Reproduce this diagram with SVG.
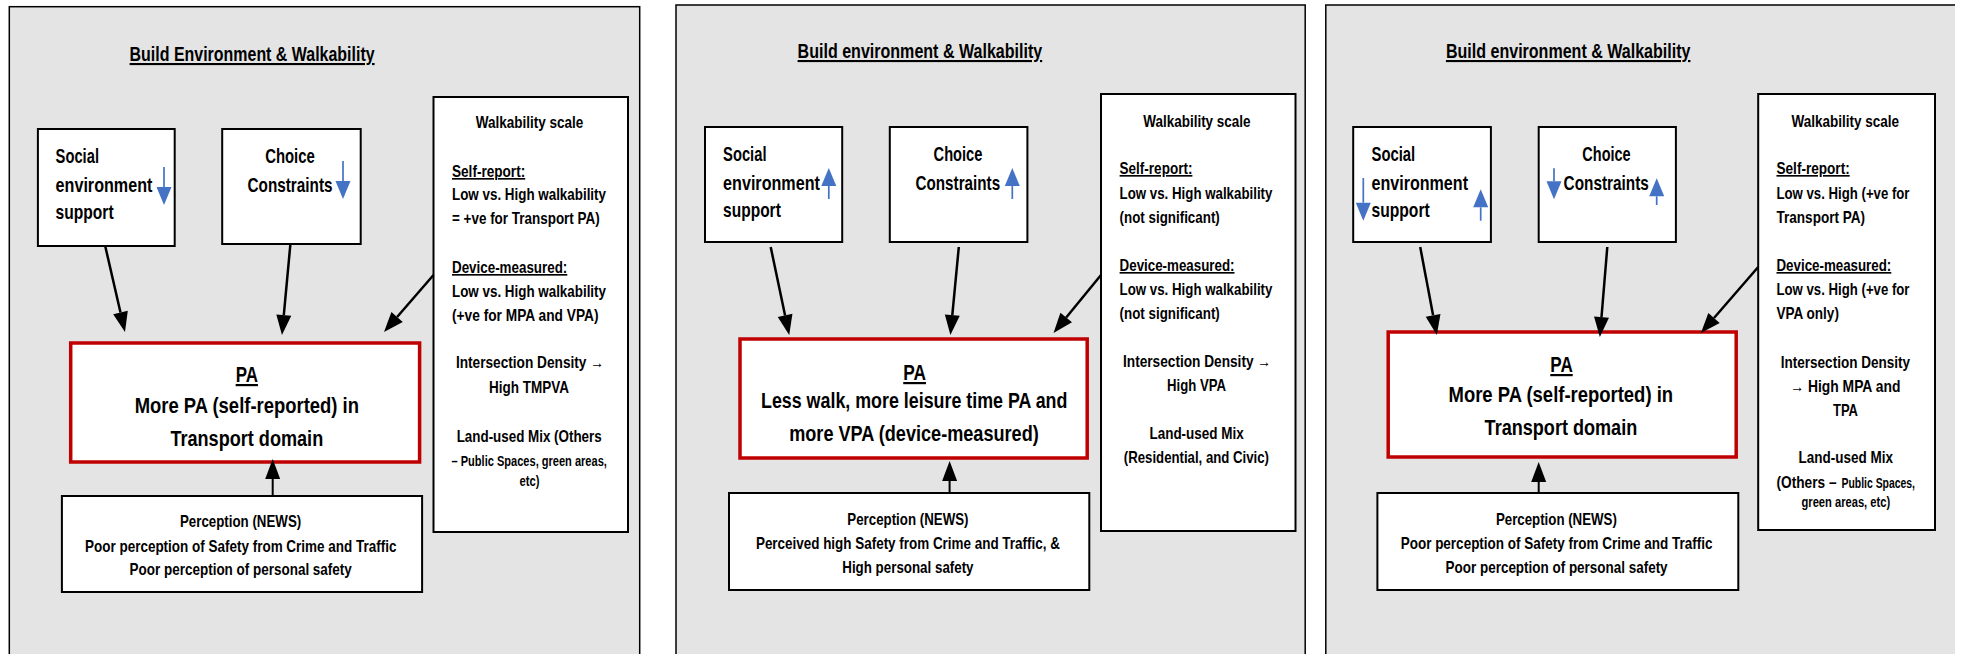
<svg xmlns="http://www.w3.org/2000/svg" width="1962" height="654" viewBox="0 0 1962 654">
<style>
.panel{fill:#e4e4e4;stroke:#000;stroke-width:1.5}
.pfill{fill:#e4e4e4;stroke:none}
.pline{fill:none;stroke:#000;stroke-width:1.5}
.box{fill:#fff;stroke:#000;stroke-width:2}
.pa{fill:#fff;stroke:#c00000;stroke-width:3.5}
text{font-family:'Liberation Sans',Arial,sans-serif;font-weight:bold;fill:#000}
.t21{font-size:21px}.t22{font-size:22px}.t16{font-size:16.5px}.t14{font-size:14px}
.m{text-anchor:middle}
.u{text-decoration:underline}
.conn{stroke:#000;stroke-width:2.5;fill:none;marker-end:url(#ah)}
.up{stroke:#000;stroke-width:2;fill:none;marker-end:url(#ah)}
.blue{stroke:#4472c4;stroke-width:1.7;fill:none;marker-end:url(#bh)}
</style>
<defs>
<marker id="ah" markerUnits="userSpaceOnUse" markerWidth="20" markerHeight="15" refX="0" refY="7.5" orient="auto" overflow="visible"><path d="M0,0 L20,7.5 L0,15 z" fill="#000"/></marker>
<marker id="bh" markerUnits="userSpaceOnUse" markerWidth="18" markerHeight="15" refX="0" refY="7.5" orient="auto" overflow="visible"><path d="M0,0 L18,7.5 L0,15 z" fill="#4472c4"/></marker>
</defs>
<rect width="1962" height="654" fill="#fff"/>

<!-- Panels -->
<g id="panel1"><rect class="panel" x="9.3" y="6.7" width="630.4" height="660"/></g>
<g id="panel2"><rect class="panel" x="676" y="5" width="629.2" height="660"/></g>
<g id="panel3"><rect class="pfill" x="1325.8" y="5" width="629.2" height="660"/><path class="pline" d="M1325.8,665 V5 H1955"/></g>

<!-- Titles -->
<g id="title1"><text class="t21 m u" x="252.1" y="61" textLength="245" lengthAdjust="spacingAndGlyphs">Build Environment &amp; Walkability</text></g>
<g id="title2"><text class="t21 m u" x="919.9" y="58" textLength="244.6" lengthAdjust="spacingAndGlyphs">Build environment &amp; Walkability</text></g>
<g id="title3"><text class="t21 m u" x="1568.2" y="58" textLength="244.5" lengthAdjust="spacingAndGlyphs">Build environment &amp; Walkability</text></g>

<!-- Panel 1 nodes -->
<g id="p1-social">
<rect class="box" x="37.9" y="129" width="136.8" height="117"/>
<text class="t21" x="55.6" y="163" textLength="43.4" lengthAdjust="spacingAndGlyphs">Social</text>
<text class="t21" x="55.6" y="191.5" textLength="96.8" lengthAdjust="spacingAndGlyphs">environment</text>
<text class="t21" x="55.6" y="219" textLength="58" lengthAdjust="spacingAndGlyphs">support</text>
<path class="blue" d="M164,167 V187"/>
</g>
<g id="p1-choice">
<rect class="box" x="222.2" y="129" width="138.5" height="115"/>
<text class="t21 m" x="290" y="163" textLength="49.7" lengthAdjust="spacingAndGlyphs">Choice</text>
<text class="t21 m" x="290" y="192" textLength="85" lengthAdjust="spacingAndGlyphs">Constraints</text>
<path class="blue" d="M343,161 V181"/>
</g>
<g id="p1-walk">
<rect class="box" x="433.5" y="97" width="194.5" height="435"/>
<text class="t16 m" x="529.5" y="128" textLength="107.7" lengthAdjust="spacingAndGlyphs">Walkability scale</text>
<text class="t16 u" x="452" y="177" textLength="73.2" lengthAdjust="spacingAndGlyphs">Self-report:</text>
<text class="t16" x="452" y="200" textLength="154" lengthAdjust="spacingAndGlyphs">Low vs. High walkability</text>
<text class="t16" x="452" y="224" textLength="147.7" lengthAdjust="spacingAndGlyphs">= +ve for Transport PA)</text>
<text class="t16 u" x="452" y="273" textLength="115.3" lengthAdjust="spacingAndGlyphs">Device-measured:</text>
<text class="t16" x="452" y="297" textLength="154" lengthAdjust="spacingAndGlyphs">Low vs. High walkability</text>
<text class="t16" x="452" y="321" textLength="146.5" lengthAdjust="spacingAndGlyphs">(+ve for MPA and VPA)</text>
<text class="t16 m" x="529.9" y="368" textLength="148" lengthAdjust="spacingAndGlyphs">Intersection Density →</text>
<text class="t16 m" x="529" y="393" textLength="80" lengthAdjust="spacingAndGlyphs">High TMPVA</text>
<text class="t16 m" x="529.2" y="442" textLength="145" lengthAdjust="spacingAndGlyphs">Land-used Mix (Others</text>
<text class="t14 m" x="529.2" y="466" textLength="155.3" lengthAdjust="spacingAndGlyphs">– Public Spaces, green areas,</text>
<text class="t14 m" x="529.5" y="486" textLength="20" lengthAdjust="spacingAndGlyphs">etc)</text>
</g>
<g id="p1-pa">
<rect class="pa" x="70.7" y="343" width="348.9" height="119"/>
<text class="t22 m u" x="246.8" y="382" textLength="22.3" lengthAdjust="spacingAndGlyphs">PA</text>
<text class="t22 m" x="246.8" y="413" textLength="224.3" lengthAdjust="spacingAndGlyphs">More PA (self-reported) in</text>
<text class="t22 m" x="246.8" y="446" textLength="152.8" lengthAdjust="spacingAndGlyphs">Transport domain</text>
</g>
<g id="p1-perception">
<rect class="box" x="61.9" y="496" width="360.2" height="96"/>
<text class="t16 m" x="240.6" y="527" textLength="121.2" lengthAdjust="spacingAndGlyphs">Perception (NEWS)</text>
<text class="t16 m" x="240.7" y="552" textLength="311.4" lengthAdjust="spacingAndGlyphs">Poor perception of Safety from Crime and Traffic</text>
<text class="t16 m" x="240.7" y="575" textLength="222.2" lengthAdjust="spacingAndGlyphs">Poor perception of personal safety</text>
</g>

<!-- Panel 2 nodes -->
<g id="p2-social">
<rect class="box" x="705" y="127" width="137.2" height="115"/>
<text class="t21" x="723.1" y="161" textLength="43.4" lengthAdjust="spacingAndGlyphs">Social</text>
<text class="t21" x="723.1" y="190" textLength="96.8" lengthAdjust="spacingAndGlyphs">environment</text>
<text class="t21" x="723.1" y="217" textLength="57.7" lengthAdjust="spacingAndGlyphs">support</text>
<path class="blue" d="M828.8,199 V186"/>
</g>
<g id="p2-choice">
<rect class="box" x="889.8" y="127" width="137.6" height="115"/>
<text class="t21 m" x="958" y="161" textLength="48.8" lengthAdjust="spacingAndGlyphs">Choice</text>
<text class="t21 m" x="957.8" y="190" textLength="84.6" lengthAdjust="spacingAndGlyphs">Constraints</text>
<path class="blue" d="M1012.3,199 V186"/>
</g>
<g id="p2-walk">
<rect class="box" x="1101" y="94" width="194.5" height="437"/>
<text class="t16 m" x="1196.9" y="127" textLength="107.3" lengthAdjust="spacingAndGlyphs">Walkability scale</text>
<text class="t16 u" x="1119.6" y="174" textLength="72.8" lengthAdjust="spacingAndGlyphs">Self-report:</text>
<text class="t16" x="1119.6" y="199" textLength="152.8" lengthAdjust="spacingAndGlyphs">Low vs. High walkability</text>
<text class="t16" x="1119.6" y="223" textLength="100.2" lengthAdjust="spacingAndGlyphs">(not significant)</text>
<text class="t16 u" x="1119.6" y="271" textLength="114.9" lengthAdjust="spacingAndGlyphs">Device-measured:</text>
<text class="t16" x="1119.6" y="295" textLength="152.8" lengthAdjust="spacingAndGlyphs">Low vs. High walkability</text>
<text class="t16" x="1119.6" y="319" textLength="100.2" lengthAdjust="spacingAndGlyphs">(not significant)</text>
<text class="t16 m" x="1197" y="367" textLength="148" lengthAdjust="spacingAndGlyphs">Intersection Density →</text>
<text class="t16 m" x="1196.5" y="391" textLength="59" lengthAdjust="spacingAndGlyphs">High VPA</text>
<text class="t16 m" x="1196.6" y="439" textLength="94.3" lengthAdjust="spacingAndGlyphs">Land-used Mix</text>
<text class="t16 m" x="1196.4" y="463" textLength="145.2" lengthAdjust="spacingAndGlyphs">(Residential, and Civic)</text>
</g>
<g id="p2-pa">
<rect class="pa" x="740" y="339" width="347.2" height="119"/>
<text class="t22 m u" x="914.6" y="380" textLength="22.7" lengthAdjust="spacingAndGlyphs">PA</text>
<text class="t22 m" x="914.2" y="408" textLength="306.4" lengthAdjust="spacingAndGlyphs">Less walk, more leisure time PA and</text>
<text class="t22 m" x="914" y="441" textLength="249.6" lengthAdjust="spacingAndGlyphs">more VPA (device-measured)</text>
</g>
<g id="p2-perception">
<rect class="box" x="729" y="493" width="360.3" height="97"/>
<text class="t16 m" x="907.9" y="525" textLength="121.2" lengthAdjust="spacingAndGlyphs">Perception (NEWS)</text>
<text class="t16 m" x="907.9" y="549" textLength="303.9" lengthAdjust="spacingAndGlyphs">Perceived high Safety from Crime and Traffic, &amp;</text>
<text class="t16 m" x="907.9" y="573" textLength="131.3" lengthAdjust="spacingAndGlyphs">High personal safety</text>
</g>

<!-- Panel 3 nodes -->
<g id="p3-social">
<rect class="box" x="1353.2" y="127" width="137.7" height="115"/>
<text class="t21" x="1371.5" y="161" textLength="43.7" lengthAdjust="spacingAndGlyphs">Social</text>
<text class="t21" x="1371.5" y="190" textLength="96.5" lengthAdjust="spacingAndGlyphs">environment</text>
<text class="t21" x="1371.5" y="217" textLength="58.2" lengthAdjust="spacingAndGlyphs">support</text>
<path class="blue" d="M1363.3,178 V202.7"/>
<path class="blue" d="M1480.7,220.7 V207.3"/>
</g>
<g id="p3-choice">
<rect class="box" x="1538.7" y="127" width="137.2" height="115"/>
<text class="t21 m" x="1606.5" y="161" textLength="48.3" lengthAdjust="spacingAndGlyphs">Choice</text>
<text class="t21 m" x="1606.2" y="190" textLength="85.2" lengthAdjust="spacingAndGlyphs">Constraints</text>
<path class="blue" d="M1554,168.3 V181.3"/>
<path class="blue" d="M1656.7,205 V196.3"/>
</g>
<g id="p3-walk">
<rect class="box" x="1758.2" y="94" width="176.8" height="436"/>
<text class="t16 m" x="1845.3" y="127" textLength="107.7" lengthAdjust="spacingAndGlyphs">Walkability scale</text>
<text class="t16 u" x="1776.5" y="174" textLength="73.2" lengthAdjust="spacingAndGlyphs">Self-report:</text>
<text class="t16" x="1776.5" y="199" textLength="133" lengthAdjust="spacingAndGlyphs">Low vs. High (+ve for</text>
<text class="t16" x="1776.5" y="223" textLength="88.6" lengthAdjust="spacingAndGlyphs">Transport PA)</text>
<text class="t16 u" x="1776.5" y="271" textLength="114.8" lengthAdjust="spacingAndGlyphs">Device-measured:</text>
<text class="t16" x="1776.5" y="295" textLength="133" lengthAdjust="spacingAndGlyphs">Low vs. High (+ve for</text>
<text class="t16" x="1776.5" y="319" textLength="62.4" lengthAdjust="spacingAndGlyphs">VPA only)</text>
<text class="t16 m" x="1845.4" y="368" textLength="129.3" lengthAdjust="spacingAndGlyphs">Intersection Density</text>
<text class="t16 m" x="1845.3" y="392" textLength="110.2" lengthAdjust="spacingAndGlyphs">→ High MPA and</text>
<text class="t16 m" x="1845.5" y="416" textLength="25" lengthAdjust="spacingAndGlyphs">TPA</text>
<text class="t16 m" x="1845.8" y="463" textLength="94.4" lengthAdjust="spacingAndGlyphs">Land-used Mix</text>
<text class="t16" x="1776.5" y="488" textLength="60" lengthAdjust="spacingAndGlyphs">(Others –</text>
<text class="t14" x="1841.5" y="488" textLength="73.5" lengthAdjust="spacingAndGlyphs">Public Spaces,</text>
<text class="t14 m" x="1845.8" y="507" textLength="88.6" lengthAdjust="spacingAndGlyphs">green areas, etc)</text>
</g>
<g id="p3-pa">
<rect class="pa" x="1388.2" y="332" width="348" height="125"/>
<text class="t22 m u" x="1561.5" y="372" textLength="22.5" lengthAdjust="spacingAndGlyphs">PA</text>
<text class="t22 m" x="1560.8" y="402" textLength="224.5" lengthAdjust="spacingAndGlyphs">More PA (self-reported) in</text>
<text class="t22 m" x="1560.9" y="435" textLength="152.6" lengthAdjust="spacingAndGlyphs">Transport domain</text>
</g>
<g id="p3-perception">
<rect class="box" x="1377.4" y="493" width="360.9" height="97"/>
<text class="t16 m" x="1556.4" y="525" textLength="121" lengthAdjust="spacingAndGlyphs">Perception (NEWS)</text>
<text class="t16 m" x="1556.6" y="549" textLength="311.9" lengthAdjust="spacingAndGlyphs">Poor perception of Safety from Crime and Traffic</text>
<text class="t16 m" x="1556.6" y="573" textLength="222" lengthAdjust="spacingAndGlyphs">Poor perception of personal safety</text>
</g>

<!-- Connectors -->
<g id="connectors">
<path class="conn" d="M105.2,246 L120.5,312.5"/>
<path class="conn" d="M290.4,244 L283.8,315.1"/>
<path class="conn" d="M433.5,275 L397.1,317"/>
<path class="up" d="M272.7,496 V479"/>
<path class="conn" d="M770.7,247 L785.1,315.4"/>
<path class="conn" d="M958.8,247 L952.3,315.1"/>
<path class="conn" d="M1101,275 L1066.2,317.5"/>
<path class="up" d="M949.6,493 V481"/>
<path class="conn" d="M1420.2,247 L1433.1,315.3"/>
<path class="conn" d="M1607.3,247 L1601.5,317.1"/>
<path class="conn" d="M1758.2,267 L1714.0,318"/>
<path class="up" d="M1538.7,493 V482"/>
</g>
</svg>
